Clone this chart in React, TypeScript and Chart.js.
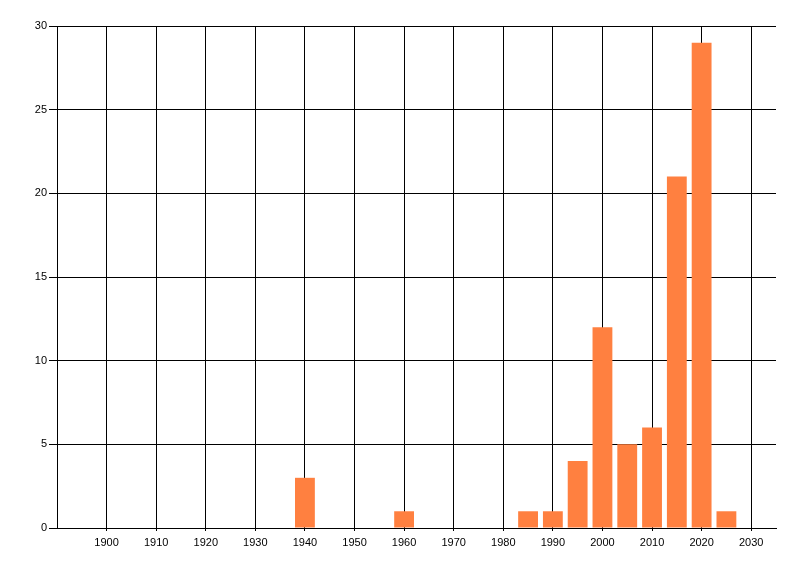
import { useEffect, useRef } from "react"
import { Chart, registerables } from "chart.js"

Chart.register(...registerables)

const years = [1940, 1960, 1985, 1990, 1995, 2000, 2005, 2010, 2015, 2020, 2025]
const counts = [3, 1, 1, 1, 4, 12, 5, 6, 21, 29, 1]
const yearTicks = [1900, 1910, 1920, 1930, 1940, 1950, 1960, 1970, 1980, 1990, 2000, 2010, 2020, 2030]
const countTicks = [0, 5, 10, 15, 20, 25, 30]

const tickFont = { family: "'Liberation Sans', Arial, sans-serif", size: 11 }

export default function App() {
  const chartRef = useRef<HTMLCanvasElement>(null)
  const chartInstance = useRef<Chart | null>(null)

  useEffect(() => {
    if (!chartRef.current) return

    if (chartInstance.current) {
      chartInstance.current.destroy()
    }

    const ctx = chartRef.current.getContext("2d")
    if (!ctx) return

    chartInstance.current = new Chart(ctx, {
      type: "bar",
      data: {
        datasets: [
          {
            data: years.map((year, i) => ({ x: year, y: counts[i] })),
            backgroundColor: "rgb(255, 128, 64)",
            borderWidth: 0,
            barPercentage: 0.8,
            categoryPercentage: 1,
          },
        ],
      },
      options: {
        responsive: false,
        animation: false,
        layout: {
          padding: { top: 26, right: 24, left: 0, bottom: 0 },
        },
        plugins: {
          legend: { display: false },
          tooltip: { enabled: false },
        },
        scales: {
          x: {
            type: "linear",
            min: 1890,
            max: 2035,
            offset: false,
            afterBuildTicks: (scale) => {
              scale.ticks = yearTicks.map((value) => ({ value }))
            },
            afterFit: (scale) => {
              scale.height = 48
            },
            grid: {
              offset: false,
              color: "#000",
              lineWidth: 1,
              tickLength: 3,
            },
            border: { color: "#000", width: 1 },
            ticks: {
              color: "#000",
              font: tickFont,
              padding: 5,
              maxRotation: 0,
              autoSkip: false,
              callback: (value) => String(value),
            },
          },
          y: {
            min: 0,
            max: 30,
            afterBuildTicks: (scale) => {
              scale.ticks = countTicks.map((value) => ({ value }))
            },
            afterFit: (scale) => {
              scale.width = 57
            },
            grid: {
              color: "#000",
              lineWidth: 1,
              tickLength: 8,
            },
            border: { color: "#000", width: 1 },
            ticks: {
              color: "#000",
              font: tickFont,
              padding: 2,
            },
          },
        },
      },
    })

    return () => {
      if (chartInstance.current) {
        chartInstance.current.destroy()
        chartInstance.current = null
      }
    }
  }, [])

  return (
    <div style={{ position: "fixed", top: 0, left: 0, width: 800, height: 576, background: "#fff" }}>
      <canvas ref={chartRef} width={800} height={576} />
    </div>
  )
}
